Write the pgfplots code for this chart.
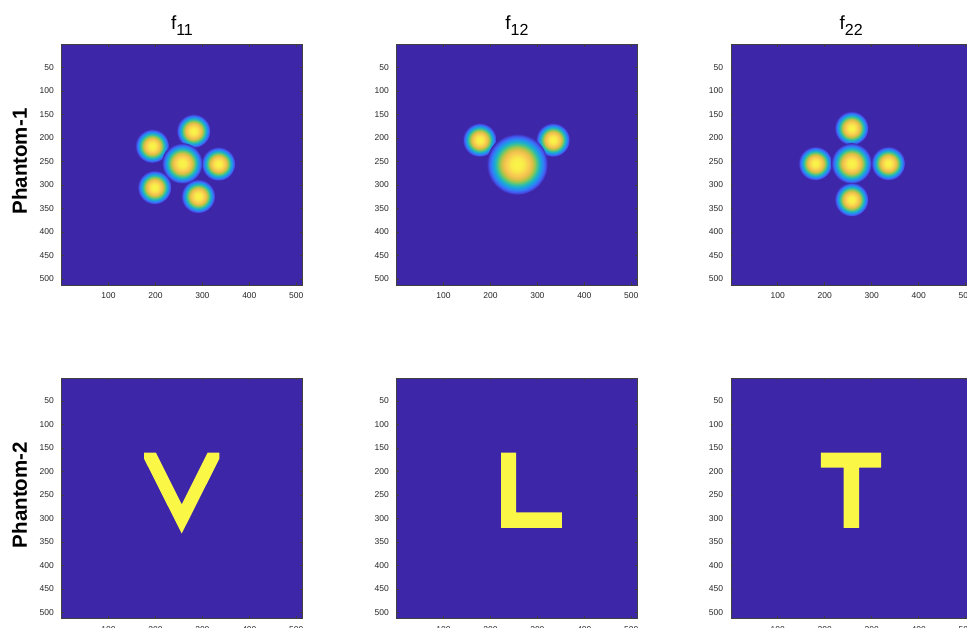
\documentclass[border=0pt]{standalone}
\usepackage{pgfplots}
\pgfplotsset{compat=1.18}
\usepackage{fontspec}
\setmainfont{Liberation Sans}

\definecolor{pbg}{rgb}{0.242,0.150,0.660}
\definecolor{pyel}{rgb}{0.980,0.970,0.280}
\definecolor{c0}{rgb}{0.975,0.965,0.280}
\definecolor{c1}{rgb}{0.975,0.925,0.290}
\definecolor{c2}{rgb}{0.970,0.770,0.320}
\definecolor{c3}{rgb}{0.840,0.750,0.270}
\definecolor{c4}{rgb}{0.580,0.780,0.320}
\definecolor{c5}{rgb}{0.260,0.760,0.570}
\definecolor{c6}{rgb}{0.090,0.670,0.840}
\definecolor{c7}{rgb}{0.190,0.500,0.970}
\definecolor{c8}{rgb}{0.270,0.320,0.930}

\pgfdeclareradialshading{blobsh}{\pgfpointorigin}{%
  color(0bp)=(c0); color(5bp)=(c1); color(10bp)=(c2); color(12.5bp)=(c3);
  color(14.5bp)=(c4); color(16.5bp)=(c5); color(18.75bp)=(c6); color(21.25bp)=(c7);
  color(23.25bp)=(c8); color(25bp)=(pbg); color(50bp)=(pbg)}
\pgfdeclareplotmark{blob}{%
  \pgfpathcircle{\pgfpointorigin}{\pgfplotmarksize}%
  \pgfshadepath{blobsh}{0}%
  \pgfusepath{}%
}

\pgfplotsset{
  img/.style={
    width=240.5pt, height=240.5pt, scale only axis,
    anchor=north west,
    xmin=0.5, xmax=512.5, ymin=0.5, ymax=512.5,
    y dir=reverse,
    axis background/.style={fill=pbg},
    axis line style={draw=black!75, line width=0.5pt},
    xtick={100,200,300,400,500},
    ytick={50,100,150,200,250,300,350,400,450,500},
    tick align=inside,
    major tick length=2.4pt,
    tick style={draw=black!75, line width=0.5pt},
    tick label style={font=\fontsize{8.5}{8.5}\selectfont, text=black!85},
    xticklabel style={inner sep=0pt, yshift=-8pt},
    yticklabel style={inner sep=0pt, xshift=-7.7pt},
    /pgf/number format/assume math mode=true,
    title style={at={(0.5,1)}, anchor=base, yshift=8.3pt, inner sep=0pt,
      font=\fontsize{19}{19}\selectfont},
    ylabel style={at={([xshift=-34.7pt,yshift=3pt]axis description cs:0,0.5)},
      anchor=base, inner sep=0pt, font=\fontsize{20.5}{20.5}\selectfont\bfseries},
  },
  blobs/.style={only marks, mark=blob},
  letter/.style={fill=pyel, draw=none, mark=none},
}
\newcommand{\ftitle}[1]{f\raisebox{-6pt}{\fontsize{16}{16}\selectfont #1}}

\begin{document}
\begin{tikzpicture}
% ---------- Row 1 ----------
\begin{axis}[img, at={(61.7pt,583.7pt)}, title={\ftitle{11}}, ylabel={Phantom-1}]
  \addplot[blobs, mark size=16.9pt] coordinates {(281,185) (193,217) (334,255) (198,305) (291,324)};
  \addplot[blobs, mark size=20.2pt] coordinates {(257,254)};
\end{axis}
\begin{axis}[img, at={(396.7pt,583.7pt)}, title={\ftitle{12}}]
  \addplot[blobs, mark size=16.9pt] coordinates {(177,204) (333,204)};
  \addplot[blobs, mark size=30.5pt] coordinates {(257,256)};
\end{axis}
\begin{axis}[img, at={(731pt,583.7pt)}, title={\ftitle{22}}]
  \addplot[blobs, mark size=16.9pt] coordinates {(257,179) (180,254) (335,254) (257,331)};
  \addplot[blobs, mark size=20.2pt] coordinates {(257,254)};
\end{axis}
% ---------- Row 2 ----------
\begin{axis}[img, at={(61.7pt,250.2pt)}, ylabel={Phantom-2}]
  \addplot[letter] coordinates {(176,160) (201,160) (256,270) (311,160) (336,160) (336,173) (256,332) (176,173)} -- cycle;
\end{axis}
\begin{axis}[img, at={(396.7pt,250.2pt)}]
  \addplot[letter] coordinates {(223,160) (255,160) (255,287) (352,287) (352,320) (223,320)} -- cycle;
\end{axis}
\begin{axis}[img, at={(731pt,250.2pt)}]
  \addplot[letter] coordinates {(192,160) (320,160) (320,192) (273,192) (273,320) (240,320) (240,192) (192,192)} -- cycle;
\end{axis}
\pgfresetboundingbox
\useasboundingbox (0,0) rectangle (967pt,628pt);
\end{tikzpicture}
\end{document}
